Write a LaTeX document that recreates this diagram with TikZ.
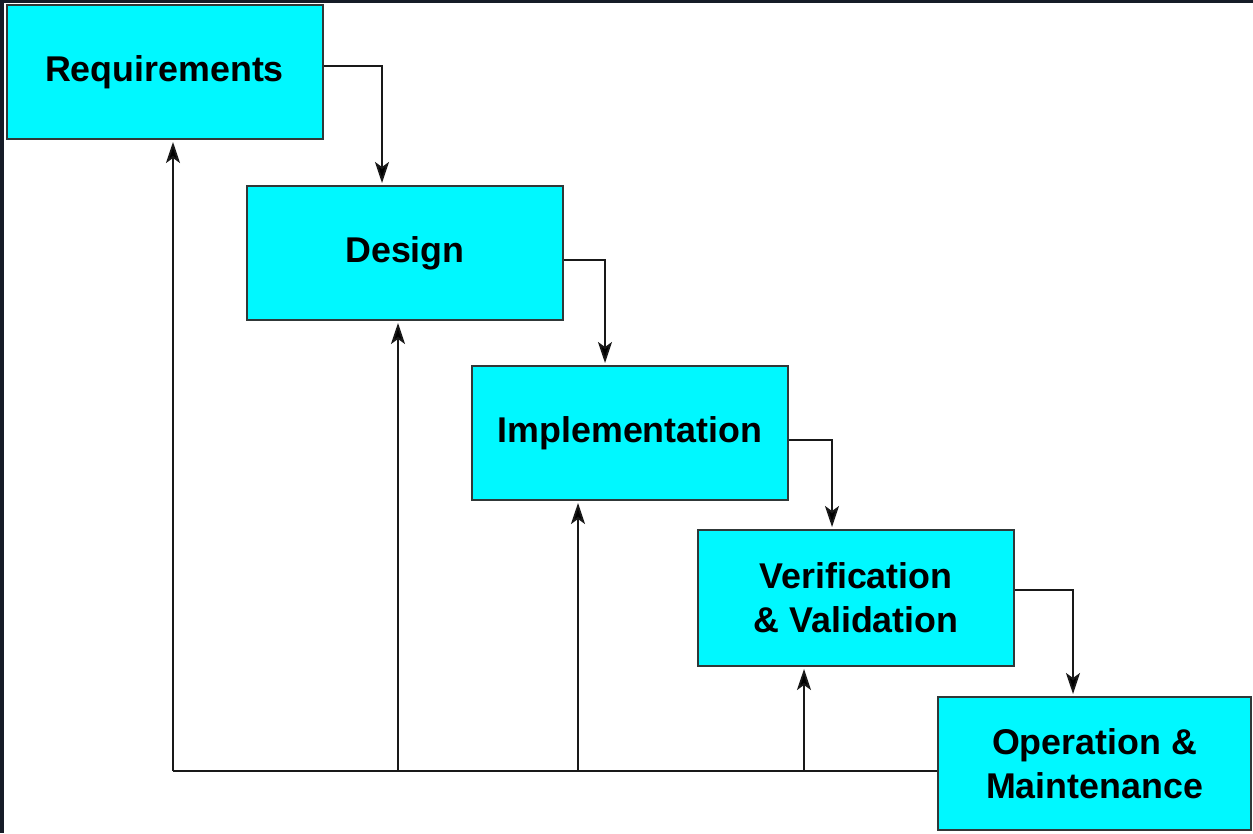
\documentclass[tikz,border=0pt]{standalone}
\usepackage{fontspec}
\setmainfont{Liberation Sans}
\usetikzlibrary{arrows.meta,calc}
\definecolor{boxfill}{HTML}{00F8FF}
\definecolor{boxline}{HTML}{303838}
\definecolor{frame}{HTML}{161C28}
\begin{document}
\begin{tikzpicture}[x=1pt,y=-1pt,
  phase/.style={draw=boxline,fill=boxfill,line width=2pt,minimum width=316pt,minimum height=134pt,inner sep=0pt,align=center,font=\fontsize{35.8}{44}\selectfont\bfseries},
  flow/.style={draw=black!90,line width=1.8pt,shorten >=2pt,-{Stealth[length=21pt,width=14pt,inset=5pt,fill=black]}},
  link/.style={draw=black!90,line width=1.8pt}]
\fill[frame] (0,0) rectangle (1253,833);
\fill[white] (4,3) rectangle (1253,833);
\useasboundingbox (0,0) rectangle (1253,833);
\node[phase] (req) at (164.5,72) {\raisebox{3pt}{Requirements}};
\node[phase] (des) at (405,253) {\raisebox{3pt}{Design}};
\node[phase] (imp) at (630,433) {\raisebox{3pt}{Implementation}};
\node[phase,minimum height=136pt] (vv) at (856,598) {Verification\\\& Validation};
\node[phase,minimum width=313pt,minimum height=133pt] (om) at (1094.5,763.5) {Operation \&\\Maintenance};
% forward flow
\draw[flow] ($(req.north east)!0.455!(req.south east)$) -| ($(des.north west)+(136,0)$);
\draw[flow] ($(des.north east)!0.55!(des.south east)$) -| ($(imp.north west)+(134,0)$);
\draw[flow] ($(imp.north east)!0.55!(imp.south east)$) -| ($(vv.north west)+(135,0)$);
\draw[flow] ($(vv.north east)!0.44!(vv.south east)$) -| ($(om.north west)+(136,0)$);
% feedback
\coordinate (fb0) at ($(om.north west)!0.556!(om.south west)$);
\coordinate (fb1) at (173,771);
\coordinate (fb2) at (398,771);
\coordinate (fb3) at (578,771);
\coordinate (fb4) at (804,771);
\draw[link] (fb0) -- (fb1);
\draw[flow] (fb1) -- (fb1 |- req.south);
\draw[flow] (fb2) -- (fb2 |- des.south);
\draw[flow] (fb3) -- (fb3 |- imp.south);
\draw[flow] (fb4) -- (fb4 |- vv.south);
\end{tikzpicture}
\end{document}
